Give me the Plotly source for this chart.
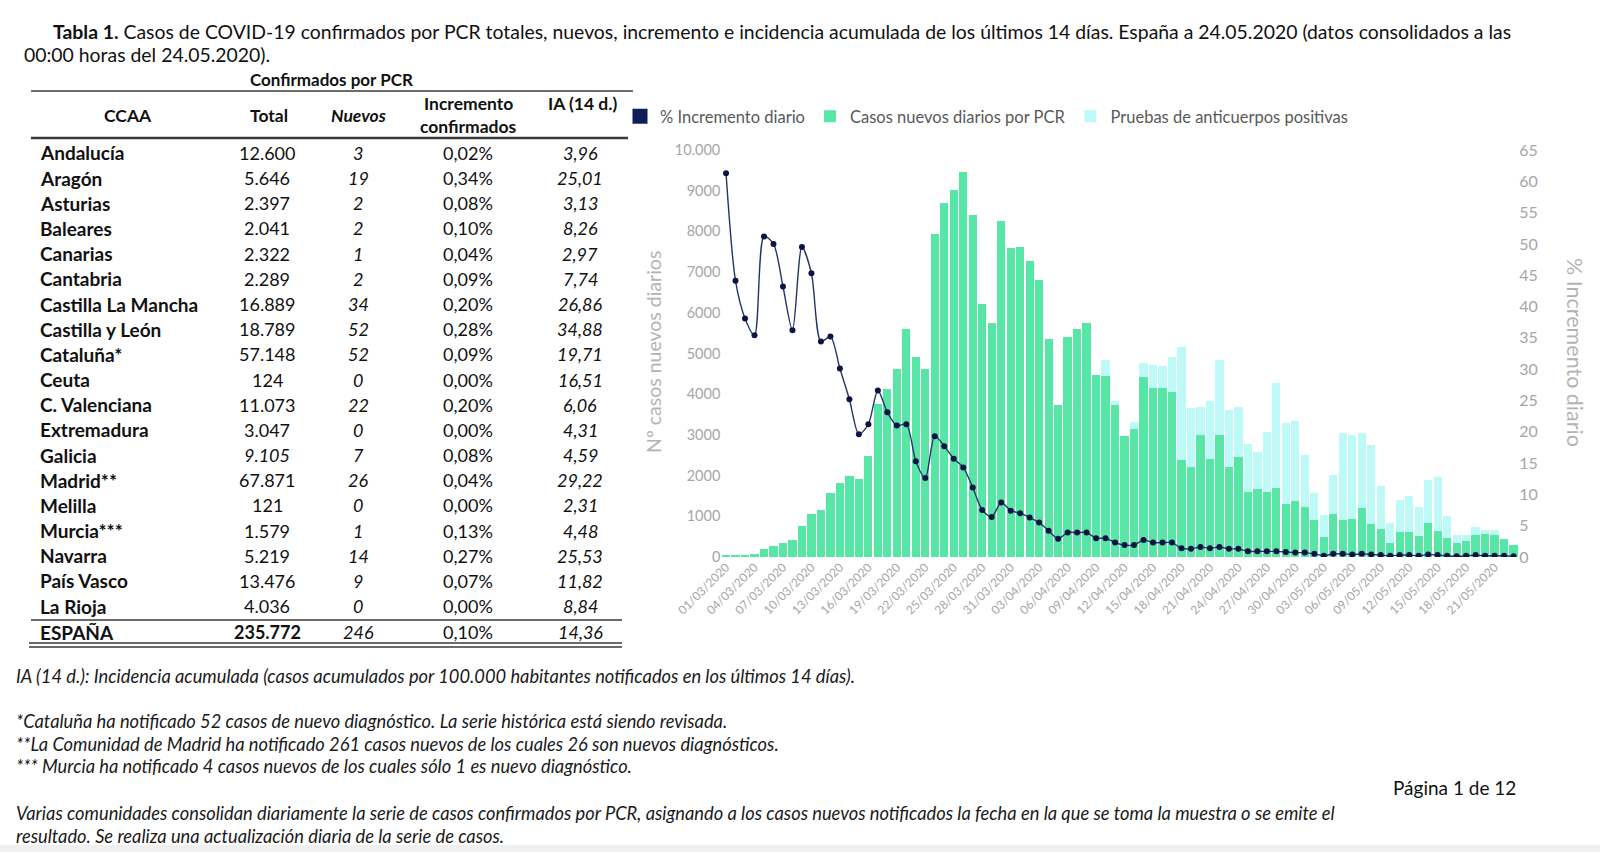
import datetime as dt
import plotly.graph_objects as go

W, H = 1600, 852

# ---------------- chart data ----------------
start_day = dt.date(2020, 3, 1)
n_days = 84
fechas = [(start_day + dt.timedelta(days=i)).strftime("%d/%m/%Y") for i in range(n_days)]

casos_pcr = [40, 45, 55, 80, 200, 280, 350, 420, 770, 1060,
             1155, 1580, 1825, 1990, 1915, 2480, 3750, 4120, 4610, 5600,
             4905, 4625, 7935, 8690, 9015, 9450, 8405, 6215, 5745, 8265,
             7580, 7625, 7275, 6805, 5365, 3730, 5400, 5610, 5755, 4480,
             4450, 3735, 2975, 3145, 4420, 4145, 4145, 4045, 2385, 2220,
             3000, 2400, 3000, 2205, 2465, 1605, 1665, 1605, 1700, 1300,
             1385, 1235, 910, 485, 1055, 910, 925, 1195, 810, 680,
             350, 620, 620, 515, 825, 640, 460, 335, 400, 540,
             565, 540, 435, 295]

anticuerpos = [0, 0, 0, 0, 0, 0, 0, 0, 0, 0,
               0, 0, 0, 0, 0, 0, 0, 0, 0, 0,
               0, 0, 0, 0, 0, 0, 0, 0, 0, 0,
               0, 0, 0, 0, 0, 0, 0, 0, 0, 0,
               385, 105, 0, 165, 350, 575, 555, 875, 2770, 1435,
               695, 1440, 1840, 1415, 1230, 1170, 925, 1475, 2580, 1985,
               1960, 1270, 670, 550, 960, 2145, 2070, 1860, 1940, 1065,
               490, 780, 885, 720, 1065, 1335, 550, 205, 140, 205,
               100, 125, 0, 0]

incremento_diario = [61.3, 44.1, 38.1, 35.4, 51.2, 50.0, 43.2, 36.2, 49.5, 45.3,
                     34.4, 35.2, 30.1, 25.2, 19.6, 21.2, 26.6, 23.1, 21.0, 21.2,
                     15.3, 12.6, 19.3, 17.7, 15.7, 14.3, 11.1, 7.5, 6.4, 8.7,
                     7.4, 7.0, 6.3, 5.5, 4.2, 2.9, 3.9, 3.9, 3.9, 3.0,
                     3.0, 2.3, 1.9, 1.9, 2.7, 2.3, 2.3, 2.3, 1.4, 1.3,
                     1.6, 1.4, 1.6, 1.3, 1.3, 0.9, 0.9, 0.9, 0.9, 0.8,
                     0.7, 0.7, 0.5, 0.2, 0.5, 0.5, 0.4, 0.5, 0.4, 0.3,
                     0.2, 0.3, 0.3, 0.2, 0.4, 0.3, 0.2, 0.1, 0.2, 0.3,
                     0.2, 0.2, 0.2, 0.1]

left_tickvals = [0, 1000, 2000, 3000, 4000, 5000, 6000, 7000, 8000, 9000, 10000]
left_ticktext = ["0", "1000", "2000", "3000", "4000", "5000", "6000", "7000", "8000", "9000", "10.000"]
right_tickvals = [0, 5, 10, 15, 20, 25, 30, 35, 40, 45, 50, 55, 60, 65]

# ---------------- table data ----------------
ccaa = ["Andalucía", "Aragón", "Asturias", "Baleares", "Canarias", "Cantabria",
        "Castilla La Mancha", "Castilla y León", "Cataluña*", "Ceuta", "C. Valenciana",
        "Extremadura", "Galicia", "Madrid**", "Melilla", "Murcia***", "Navarra",
        "País Vasco", "La Rioja"]
total = ["12.600", "5.646", "2.397", "2.041", "2.322", "2.289", "16.889", "18.789",
         "57.148", "124", "11.073", "3.047", "9.105", "67.871", "121", "1.579",
         "5.219", "13.476", "4.036"]
nuevos = ["3", "19", "2", "2", "1", "2", "34", "52", "52", "0", "22", "0", "7",
          "26", "0", "1", "14", "9", "0"]
incremento_conf = ["0,02%", "0,34%", "0,08%", "0,10%", "0,04%", "0,09%", "0,20%",
                   "0,28%", "0,09%", "0,00%", "0,20%", "0,00%", "0,08%", "0,04%",
                   "0,00%", "0,13%", "0,27%", "0,07%", "0,00%"]
ia14 = ["3,96", "25,01", "3,13", "8,26", "2,97", "7,74", "26,86", "34,88", "19,71",
        "16,51", "6,06", "4,31", "4,59", "29,22", "2,31", "4,48", "25,53", "11,82", "8,84"]
espana = ["ESPAÑA", "235.772", "246", "0,10%", "14,36"]

titulo_1 = ("<b>Tabla 1.</b> Casos de COVID-19 confirmados por PCR totales, nuevos, incremento e "
            "incidencia acumulada de los últimos 14 días. España a 24.05.2020 (datos consolidados a las")
titulo_2 = "00:00 horas del 24.05.2020)."
notas = [
    "IA (14 d.): Incidencia acumulada (casos acumulados por 100.000 habitantes notificados en los últimos 14 días).",
    "*Cataluña ha notificado 52 casos de nuevo diagnóstico. La serie histórica está siendo revisada.",
    "**La Comunidad de Madrid ha notificado 261 casos nuevos de los cuales 26 son nuevos diagnósticos.",
    "*** Murcia ha notificado 4 casos nuevos de los cuales sólo 1 es nuevo diagnóstico.",
    "Varias comunidades consolidan diariamente la serie de casos confirmados por PCR, asignando a los casos nuevos notificados la fecha en la que se toma la muestra o se emite el",
    "resultado. Se realiza una actualización diaria de la serie de casos.",
]
pagina = "Página 1 de 12"

assert len(casos_pcr) == n_days and len(anticuerpos) == n_days and len(incremento_diario) == n_days

# ---------------- styles ----------------
FONT = "Lato"
GREEN = "#58e6a6"
CYAN = "#bdf9f7"
NAVY = "#27336b"
NAVY_DOT = "#0b1445"
AXIS_GRAY = "#a6a6a6"
TXT = "#111111"


def px(x):
    return x / W


def py(y):
    return 1 - y / H


fig = go.Figure()

fig.add_trace(go.Scatter(x=[None], y=[None], mode="markers", name="% Incremento diario",
                         marker=dict(symbol="square", size=15, color="#0f1d5a"),
                         legendrank=1, hoverinfo="skip"))
fig.add_trace(go.Bar(x=fechas, y=casos_pcr, name="Casos nuevos diarios por PCR",
                     marker=dict(color=GREEN, line=dict(width=0)), legendrank=2))
fig.add_trace(go.Bar(x=fechas, y=anticuerpos, name="Pruebas de anticuerpos positivas",
                     marker=dict(color=CYAN, line=dict(width=0)), legendrank=3))
fig.add_trace(go.Scatter(x=fechas, y=incremento_diario, yaxis="y2", mode="lines+markers",
                         name="% Incremento diario", showlegend=False,
                         line=dict(shape="spline", smoothing=0.8, color=NAVY, width=1.4),
                         marker=dict(size=6, color=NAVY_DOT)))

ann = []


def text(x, y, s, size=18, xanchor="left", color=TXT, angle=0, yanchor="middle"):
    ann.append(dict(x=px(x), y=py(y), xref="paper", yref="paper", text=s, showarrow=False,
                    xanchor=xanchor, yanchor=yanchor, textangle=angle,
                    font=dict(family=FONT, size=size, color=color)))


# title
text(51, 32, titulo_1, size=19.4)
text(22, 55, titulo_2, size=19.4)

# table header
text(331, 79, "<b>Confirmados por PCR</b>", size=17, xanchor="center")
text(128, 115, "<b>CCAA</b>", size=17.5, xanchor="center")
text(269, 115, "<b>Total</b>", size=17.5, xanchor="center")
text(358, 115, "<b><i>Nuevos</i></b>", size=17.5, xanchor="center")
text(468, 103, "<b>Incremento</b>", size=17.5, xanchor="center")
text(468, 126, "<b>confirmados</b>", size=17.5, xanchor="center")
text(582, 103, "<b>IA (14 d.)</b>", size=17.5, xanchor="center")

row0, row_last = 153.0, 606.0
pitch = (row_last - row0) / (len(ccaa) - 1)
for i, name in enumerate(ccaa):
    y = row0 + i * pitch
    text(38, y, "<b>%s</b>" % name, size=19)
    tot = "<i>%s</i>" % total[i] if name == "Galicia" else total[i]
    text(267, y, tot, size=18, xanchor="center")
    text(358, y, "<i>%s</i>" % nuevos[i], size=18, xanchor="center")
    text(468, y, incremento_conf[i], size=18, xanchor="center")
    text(580, y, "<i>%s</i>" % ia14[i], size=18, xanchor="center")

ye = 632
text(38, ye, "<b>%s</b>" % espana[0], size=19)
text(267, ye, "<b>%s</b>" % espana[1], size=18, xanchor="center")
text(358, ye, "<i>%s</i>" % espana[2], size=18, xanchor="center")
text(468, ye, espana[3], size=18, xanchor="center")
text(580, ye, "<i>%s</i>" % espana[4], size=18, xanchor="center")

# footnotes
for s, y in zip(notas, [676, 721, 744, 766, 813, 836]):
    text(14, y, "<i>%s</i>" % s, size=18.3, color="#1a1a1a")
text(1454, 787, pagina, size=19, xanchor="center")

# axis titles
text(653, 352, "Nº casos nuevos diarios", size=19.5, xanchor="center", color="#b3b3b3", angle=-90)
text(1575, 352, "% Incremento diario", size=21.5, xanchor="center", color="#b3b3b3", angle=90)

shapes = []


def hline(x0, x1, y, w=1.5, color="#3a3a3a"):
    shapes.append(dict(type="line", xref="paper", yref="paper", x0=px(x0), x1=px(x1),
                       y0=py(y), y1=py(y), line=dict(color=color, width=w)))


hline(31, 633, 91, 1.6)
hline(31, 628, 138, 2.4)
hline(31, 622, 620, 2.2, "#6b6b6b")
hline(29, 622, 643, 1.6)
hline(29, 622, 647, 1.6)

# bottom grey band
shapes.append(dict(type="rect", xref="paper", yref="paper", x0=0, x1=1, y0=0, y1=py(845),
                   fillcolor="#f0f0f0", line=dict(width=0), layer="below"))

fig.update_layout(
    width=W, height=H,
    margin=dict(l=0, r=0, t=0, b=0, pad=0, autoexpand=False),
    paper_bgcolor="white", plot_bgcolor="white",
    barmode="stack", bargap=0.13,
    font=dict(family=FONT, color=TXT),
    showlegend=True,
    legend=dict(orientation="h", x=px(620), y=py(99), xanchor="left", yanchor="top",
                font=dict(family=FONT, size=16.5, color="#595959"), itemwidth=30,
                traceorder="normal", bgcolor="rgba(0,0,0,0)"),
    xaxis=dict(type="category", domain=[px(721.3), px(1518.3)], anchor="y",
               range=[-0.5, n_days - 0.5], automargin=False,
               tickmode="array", tickvals=fechas[::3], ticktext=fechas[::3],
               tickangle=-45, tickfont=dict(family=FONT, size=12, color=AXIS_GRAY),
               showgrid=False, showline=False, zeroline=False, ticks=""),
    yaxis=dict(domain=[py(557), py(150)], range=[0, 10000], tickmode="array", automargin=False,
               tickvals=left_tickvals, ticktext=left_ticktext,
               tickfont=dict(family=FONT, size=14.5, color=AXIS_GRAY),
               showgrid=False, zeroline=False, showline=False, ticks=""),
    yaxis2=dict(overlaying="y", side="right", anchor="x", range=[0, 65], tickmode="array",
                automargin=False, tickvals=right_tickvals,
                tickfont=dict(family=FONT, size=16, color=AXIS_GRAY),
                showgrid=False, zeroline=False, showline=False, ticks=""),
    annotations=ann,
    shapes=shapes,
)

fig.write_html(
    "out.html",
    config={"displayModeBar": False},
    post_script="document.body.style.margin='0px';document.body.style.overflow='hidden';",
)
